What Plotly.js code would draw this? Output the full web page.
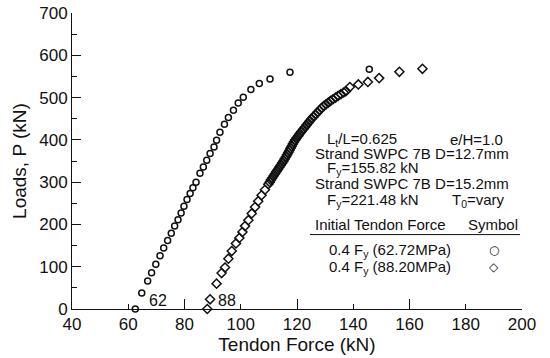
<!DOCTYPE html>
<html>
<head>
<meta charset="utf-8">
<script src="https://cdn.plot.ly/plotly-3.0.1.min.js"></script>
<style>html,body{margin:0;padding:0;background:#fff;}#chart{width:550px;height:358px;}</style>
</head>
<body>
<div id="chart"></div>
<script>
// Series 1: initial tendon force 0.4 Fy (62.72 MPa), T0 = 62 kN  (circles)
const forceA = [62.5, 64.8, 66.9, 68.3, 69.8, 71.3, 72.6, 74.0, 75.3, 76.5, 77.7, 78.8, 79.8, 80.9, 82.0, 83.0, 84.1,
                85.5, 86.7, 87.9, 89.1, 90.5, 91.4, 92.6, 94.2, 95.6, 97.4, 99.1, 100.9, 103.6, 106.6, 110.4, 117.5, 145.7];
const loadA  = [0, 38, 66, 86, 106, 126, 144, 162, 179, 196, 211, 227, 243, 259, 273, 287, 300,
                321, 336, 352, 368, 383, 399, 418, 437, 453, 470, 487, 501, 519, 533, 544, 560, 567];

// Series 2: initial tendon force 0.4 Fy (88.20 MPa), T0 = 88 kN  (diamonds)
const forceB = [88.1, 89.1, 91.4, 93.2, 94.4, 95.6, 96.8, 98.3, 99.5, 100.6, 101.5, 102.7, 103.9, 105.1, 106.2, 107.4, 108.6, 109.8,
                110.3, 110.7, 111.2, 111.7, 112.2, 112.7, 113.2, 113.7, 114.2, 114.7, 115.2, 115.6, 116.1, 116.5, 116.9, 117.3,
                117.7, 118.1, 118.5, 118.9, 119.4, 119.9, 120.5, 121.0, 121.6, 122.2, 122.8, 123.4, 124.0, 124.6, 125.2, 125.9,
                126.6, 127.3, 128.0, 128.7, 129.5, 130.3, 131.1, 131.9, 132.8, 133.7, 134.6, 135.6, 136.6, 137.4,
                138.8, 141.8, 145.2, 149.2, 156.4, 164.6];
const loadB  = [0, 23, 60, 85, 98, 119, 137, 155, 168, 182, 196, 210, 226, 241, 255, 269, 282, 295,
                300, 305, 310, 315, 320, 325, 330, 335, 340, 345, 350, 355, 360, 365, 370, 375,
                380, 385, 390, 395, 400, 405, 410, 415, 420, 425, 430, 435, 440, 445, 450, 455,
                460, 465, 470, 475, 480, 484, 488, 492, 496, 500, 504, 508, 512, 515,
                525, 531, 537, 546, 561, 568];

const xTitle = 'Tendon Force (kN)';
const yTitle = 'Loads, P (kN)';
const startLabels = ['62', '88'];
const infoLines = [
  'L<sub>t</sub>/L=0.625',
  'e/H=1.0',
  'Strand SWPC 7B D=12.7mm',
  'F<sub>y</sub>=155.82 kN',
  'Strand SWPC 7B D=15.2mm',
  'F<sub>y</sub>=221.48 kN',
  'T<sub>0</sub>=vary'
];
const tableHeader = ['Initial Tendon Force', 'Symbol'];
const rowLabels = ['0.4 F<sub>y</sub> (62.72MPa)', '0.4 F<sub>y</sub> (88.20MPa)'];
const rowSymbols = ['○', '◇'];

const FONT = 'Liberation Sans, Arial, Helvetica, sans-serif';
const INK = '#111';

const traces = [
  {x: forceA, y: loadA, type: 'scatter', mode: 'markers', cliponaxis: false, showlegend: false,
   marker: {symbol: 'circle-open', size: 6, color: INK, line: {width: 1.5, color: INK}}},
  {x: forceB, y: loadB, type: 'scatter', mode: 'markers', cliponaxis: false, showlegend: false,
   marker: {symbol: 'diamond-open', size: 7, color: INK, line: {width: 1.5, color: INK}}},
  {x: [], y: [], xaxis: 'x2', yaxis: 'y', type: 'scatter', mode: 'markers', showlegend: false}
];

function ann(x, y, text, opts) {
  return Object.assign({x: x, y: y, xref: 'x', yref: 'y', text: text, showarrow: false,
    xanchor: 'left', yanchor: 'middle', font: {family: FONT, size: 15, color: INK}}, opts || {});
}

const symFont = {family: 'DejaVu Sans', size: 12, color: INK, weight: 'bold'};
const annotations = [
  ann(forceA[0] + 4.0, 20, startLabels[0], {font: {family: FONT, size: 16, color: INK}}),
  ann(forceB[0] + 3.1, 20, startLabels[1], {font: {family: FONT, size: 16, color: INK}}),
  ann(130.0, 400, infoLines[0]),
  ann(173.8, 400, infoLines[1]),
  ann(125.6, 367, infoLines[2]),
  ann(130.0, 332, infoLines[3]),
  ann(125.6, 296, infoLines[4]),
  ann(130.0, 257, infoLines[5]),
  ann(174.4, 257, infoLines[6]),
  ann(125.6, 200, tableHeader[0]),
  ann(180.1, 200, tableHeader[1]),
  ann(130.6, 139, rowLabels[0]),
  ann(130.6, 99, rowLabels[1]),
  ann(190.2, 139, rowSymbols[0], {xanchor: 'center', font: symFont}),
  ann(190.2, 99, rowSymbols[1], {xanchor: 'center', font: symFont})
];

const layout = {
  width: 550, height: 358,
  margin: {l: 72, r: 28, t: 13, b: 49, pad: 0},
  paper_bgcolor: '#fff', plot_bgcolor: '#fff',
  font: {family: FONT, size: 17, color: INK},
  showlegend: false,
  xaxis: {
    range: [40, 200], dtick: 20, tick0: 40, ticks: 'inside', ticklen: 5, tickwidth: 1, tickcolor: INK,
    showline: true, linecolor: INK, linewidth: 1, showgrid: false, zeroline: false,
    tickfont: {family: FONT, size: 17, color: INK},
    title: {text: xTitle, font: {family: FONT, size: 19, color: INK}, standoff: 2}
  },
  xaxis2: {
    overlaying: 'x', anchor: 'y', side: 'bottom', range: [40, 200], dtick: 40, tick0: 40,
    ticks: 'inside', ticklen: 10, tickwidth: 1, tickcolor: INK, showticklabels: false,
    showline: false, showgrid: false, zeroline: false
  },
  yaxis: {
    range: [0, 700], dtick: 100, tick0: 0, ticks: 'inside', ticklen: 9, tickwidth: 1, tickcolor: INK,
    minor: {dtick: 50, ticks: 'inside', ticklen: 5, tickwidth: 1, tickcolor: INK, showgrid: false},
    showline: true, linecolor: INK, linewidth: 1, showgrid: false, zeroline: false,
    tickfont: {family: FONT, size: 17, color: INK},
    title: {text: yTitle, font: {family: FONT, size: 19, color: INK}, standoff: 7}
  },
  shapes: [
    {type: 'line', xref: 'x', yref: 'y', x0: 124.6, x1: 199.3, y0: 176, y1: 176, line: {color: INK, width: 1}}
  ],
  annotations: annotations
};

Plotly.newPlot('chart', traces, layout, {staticPlot: true, displayModeBar: false});
</script>
</body>
</html>
